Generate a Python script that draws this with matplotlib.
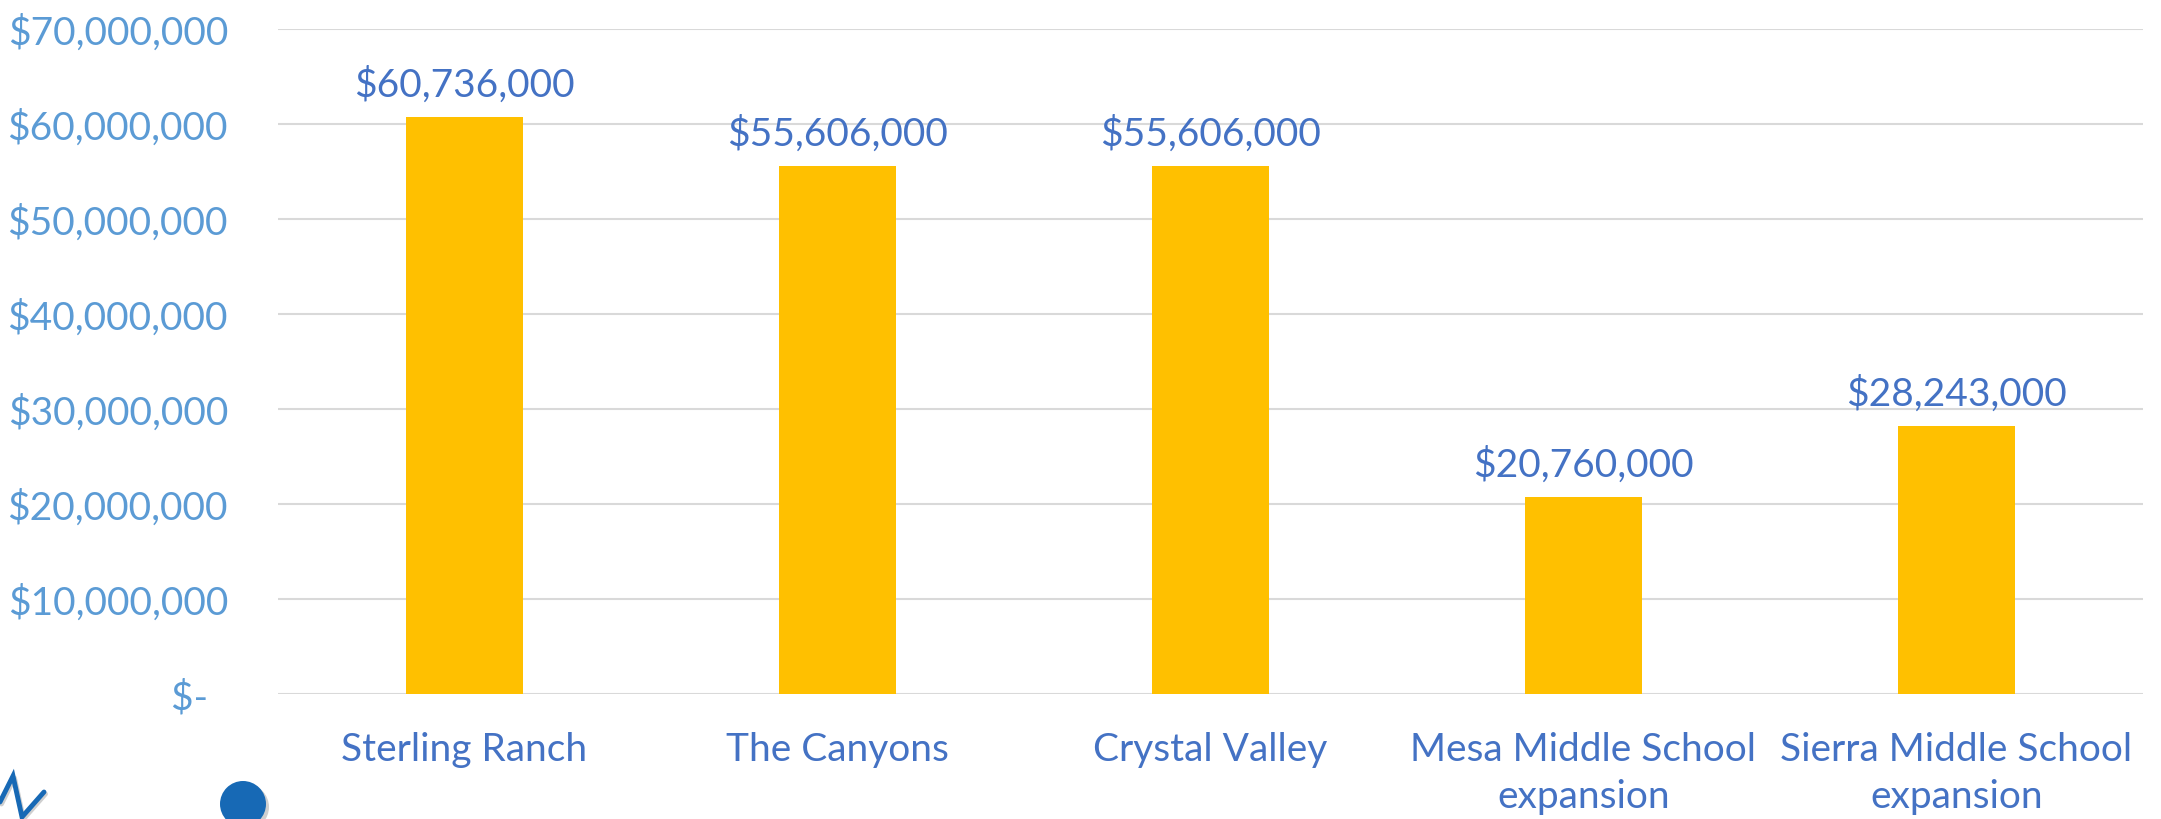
import matplotlib
matplotlib.use("Agg")
import matplotlib.pyplot as plt
from matplotlib.ticker import FuncFormatter, MultipleLocator
from matplotlib.patches import Circle

categories = ["Sterling Ranch", "The Canyons", "Crystal Valley",
              "Mesa Middle School\nexpansion", "Sierra Middle School\nexpansion"]
values = [60736000, 55606000, 55606000, 20760000, 28243000]

plt.rcParams['font.family'] = ['Lato', 'DejaVu Sans']

fig = plt.figure(figsize=(21.61, 8.20), dpi=100)
ax = fig.add_axes([278/2161, 125/820, (2143-278)/2161, (695-30)/820])

x = list(range(len(categories)))
ax.bar(x, values, width=0.315, color="#FFC000", zorder=3)
ax.set_xlim(-0.5, len(categories) - 0.5)
ax.set_ylim(0, 70000000)
ax.yaxis.set_major_locator(MultipleLocator(10000000))

def fmt(v, pos):
    if v == 0:
        return "$-  "
    return "${:,.0f}".format(v)

ax.yaxis.set_major_formatter(FuncFormatter(fmt))
ax.grid(axis="y", color="#D9D9D9", linewidth=1.5, zorder=0)
for s in ax.spines.values():
    s.set_visible(False)
ax.tick_params(axis="both", length=0)
ax.tick_params(axis="y", labelsize=28, labelcolor="#5B9BD5", pad=36)
ax.set_xticks(x)
ax.set_xticklabels(categories, fontsize=28, color="#4472C4", linespacing=1.35)
ax.tick_params(axis="x", pad=27)

for xi, v in zip(x, values):
    ax.annotate("${:,.0f}".format(v), (xi, v), xytext=(0, 14),
                textcoords="offset pixels", ha="center", va="bottom",
                fontsize=28, color="#4472C4")

# decorative logo fragments in the bottom-left corner
shadow = Circle((246/100, (820-808)/100), 0.23, transform=fig.dpi_scale_trans,
                facecolor="#B0B0B0", edgecolor="none", alpha=0.6, zorder=1)
circ = Circle((243/100, (820-805)/100), 0.23, transform=fig.dpi_scale_trans,
              facecolor="#1769B5", edgecolor="none", zorder=2)
fig.patches.extend([shadow, circ])
sx = [0, 13, 22, 44]
sy = [803, 777, 818, 793]
fig.add_artist(plt.Line2D([v/2161 + 1.5/2161 for v in sx], [1 - (v + 2)/820 for v in sy],
                          transform=fig.transFigure, color="#B0B0B0", alpha=0.6,
                          linewidth=3.5, solid_capstyle="round"))
fig.add_artist(plt.Line2D([v/2161 for v in sx], [1 - v/820 for v in sy],
                          transform=fig.transFigure, color="#1769B5", linewidth=3.5,
                          solid_capstyle="round", solid_joinstyle="miter"))

fig.savefig("out.png", dpi=100)
